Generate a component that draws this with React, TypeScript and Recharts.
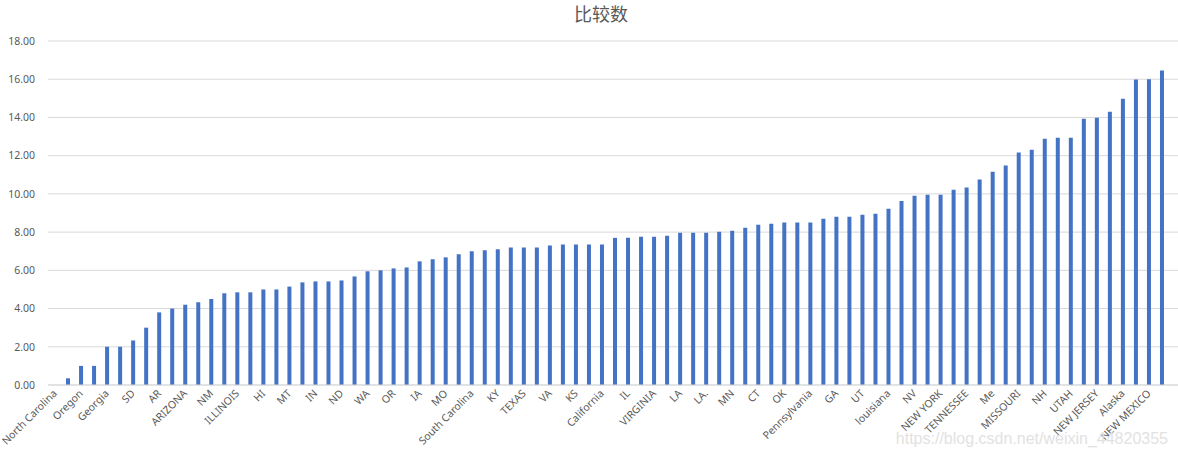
import React from 'react';
import { BarChart, Bar, XAxis, YAxis, CartesianGrid } from 'recharts';

// labels that are printed (every second category)
const shownStates = [
  'North Carolina', 'Oregon', 'Georgia', 'SD', 'AR', 'ARIZONA', 'NM', 'ILLINOIS', 'HI', 'MT',
  'IN', 'ND', 'WA', 'OR', 'IA', 'MO', 'South Carolina', 'KY', 'TEXAS', 'VA',
  'KS', 'California', 'IL', 'VIRGINIA', 'LA', 'LA.', 'MN', 'CT', 'OK', 'Pennsylvania',
  'GA', 'UT', 'louisiana', 'NV', 'NEW YORK', 'TENNESSEE', 'Me', 'MISSOURI', 'NH', 'UTAH',
  'NEW JERSEY', 'Alaska', 'NEW MEXICO',
];

const values = [
  0, 0.35, 1.0, 1.0, 2.0, 2.0, 2.33, 3.0, 3.8, 4.0,
  4.2, 4.33, 4.5, 4.8, 4.85, 4.85, 5.0, 5.0, 5.15, 5.37,
  5.42, 5.42, 5.47, 5.68, 5.95, 6.0, 6.1, 6.15, 6.47, 6.58,
  6.68, 6.84, 7.0, 7.05, 7.1, 7.2, 7.2, 7.2, 7.3, 7.35,
  7.35, 7.35, 7.35, 7.7, 7.7, 7.76, 7.76, 7.81, 7.97, 7.97,
  7.97, 8.02, 8.07, 8.23, 8.38, 8.44, 8.5, 8.5, 8.5, 8.7,
  8.8, 8.8, 8.91, 8.96, 9.22, 9.63, 9.9, 9.96, 9.96, 10.22,
  10.33, 10.75, 11.16, 11.48, 12.16, 12.31, 12.88, 12.94, 12.94, 13.93,
  13.98, 14.3, 14.98, 15.98, 16.0, 16.45,
];

const yTicks = [0, 2, 4, 6, 8, 10, 12, 14, 16, 18];

const data = values.map((v, i) => ({
  name: i % 2 === 0 ? shownStates[i / 2] : '',
  value: v,
}));

const textColor = '#595959';
const font = '"Noto Sans", "Noto Sans CJK SC", sans-serif';

const StateTick = (props: any) => {
  const { x, y, payload } = props;
  return (
    <text
      x={x + 1}
      y={y - 1}
      dy={3}
      transform={`rotate(-45 ${x + 1} ${y - 1})`}
      textAnchor="end"
      fontSize={10.5}
      fontFamily={font}
      fill={textColor}
    >
      {payload.value}
    </text>
  );
};

const App: React.FC = () => {
  return (
    <div style={{ position: 'relative', width: 1178, height: 457, fontFamily: font }}>
      <style>{`body { margin: 0; }`}</style>
      <div
        style={{
          position: 'absolute',
          top: 0,
          left: 0,
          width: 1202,
          textAlign: 'center',
          fontSize: 18,
          lineHeight: '26px',
          color: textColor,
          fontFamily: '"Noto Sans CJK SC", sans-serif',
        }}
      >
        比较数
      </div>
      <BarChart
        width={1178}
        height={457}
        data={data}
        margin={{ top: 41, right: 0, left: 0, bottom: 0 }}
      >
        <CartesianGrid vertical={false} stroke="#d9d9d9" />
        <XAxis
          dataKey="name"
          interval={1}
          height={72}
          padding={{ left: 0, right: 10 }}
          tickLine={false}
          axisLine={{ stroke: '#d9d9d9' }}
          tick={<StateTick />}
        />
        <YAxis
          width={48}
          domain={[0, 18]}
          ticks={yTicks}
          interval={0}
          axisLine={false}
          tickLine={false}
          tickMargin={7}
          tickFormatter={(v: number) => v.toFixed(2)}
          tick={{ fontSize: 10.5, fill: textColor, fontFamily: font }}
        />
        <Bar dataKey="value" fill="#4472C4" barSize={4} isAnimationActive={false} />
      </BarChart>
      <div
        style={{
          position: 'absolute',
          top: 429,
          right: 10,
          fontSize: 16,
          lineHeight: '20px',
          color: '#e2e2e2',
          fontFamily: '"Liberation Sans", Arial, sans-serif',
          pointerEvents: 'none',
        }}
      >
        https://blog.csdn.net/weixin_44820355
      </div>
    </div>
  );
};

export default App;
